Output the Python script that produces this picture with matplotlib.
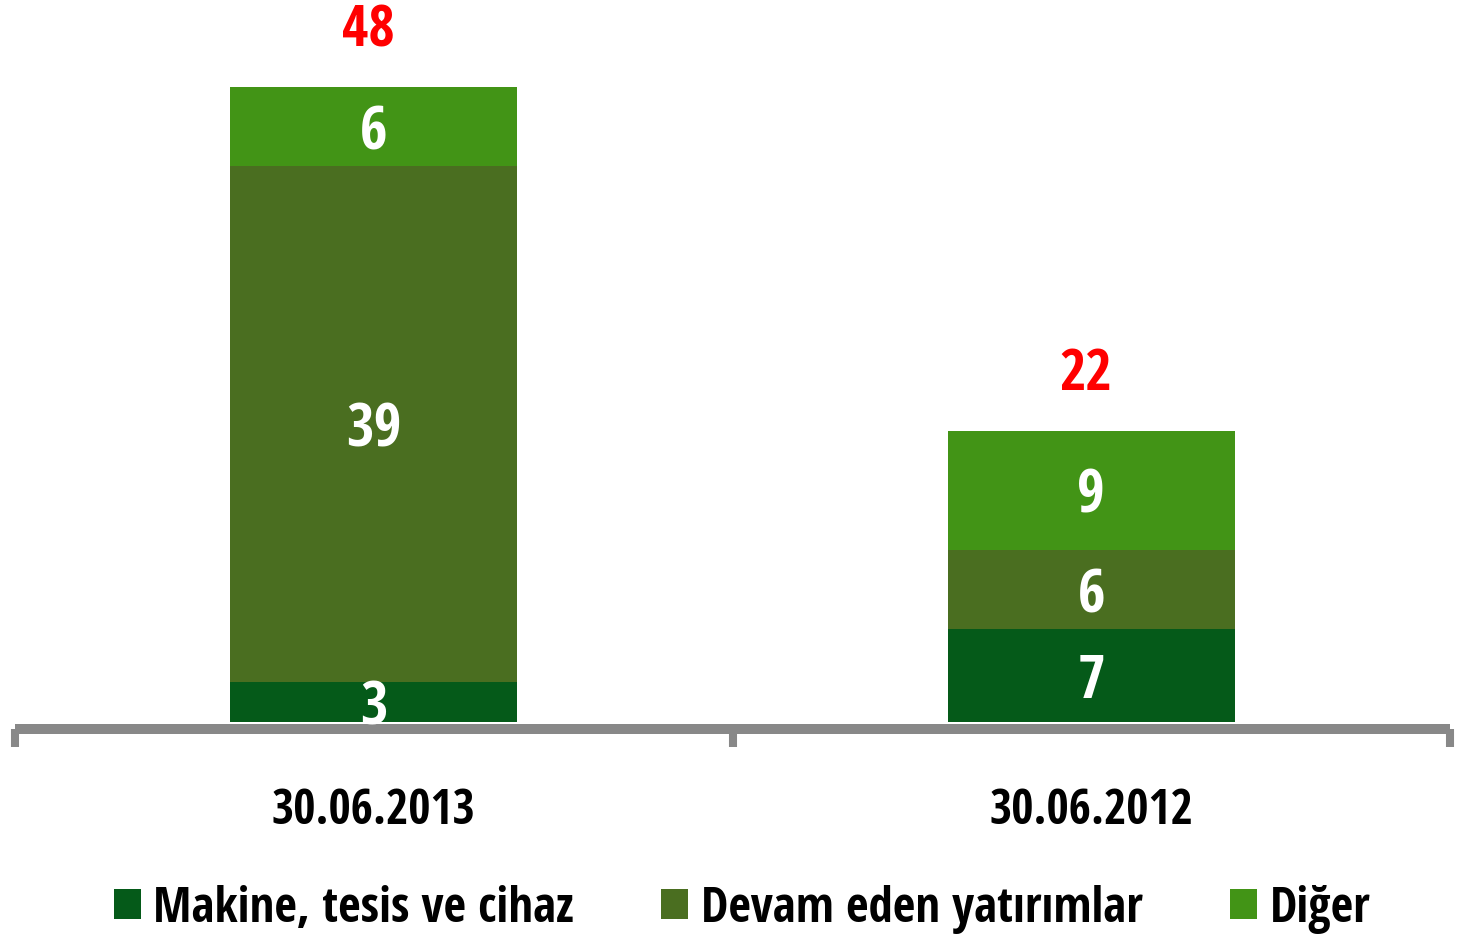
import matplotlib
matplotlib.use('Agg')
import matplotlib.pyplot as plt
import numpy as np

categories = ['30.06.2013', '30.06.2012']
series_names = ['Makine, tesis ve cihaz', 'Devam eden yatırımlar', 'Diğer']
makine = [3, 7]
devam = [39, 6]
diger = [6, 9]
totals = [48, 22]

colors = ['#055a19', '#4a6e20', '#429416']

plt.rcParams['font.family'] = ['Open Sans Condensed', 'Carlito', 'DejaVu Sans']
plt.rcParams['font.weight'] = 'bold'

fig = plt.figure(figsize=(14.62, 9.37), dpi=100)
ax = fig.add_axes([15 / 1462, 1 - 723 / 937, 1435 / 1462, 723 / 937])

x = np.arange(len(categories))
bottom = np.zeros(len(categories))
for vals, name, c in zip([makine, devam, diger], series_names, colors):
    ax.bar(x, vals, width=0.4, bottom=bottom, color=c, label=name, zorder=2)
    # white value labels, digits centred in the segment
    for xi, v, b in zip(x, vals, bottom):
        ax.annotate(str(v), (xi, b + v / 2), xytext=(0, -15.4), textcoords='offset points',
                    ha='center', va='baseline', color='white', fontsize=43,
                    fontweight='bold', zorder=4)
    bottom += np.array(vals)

# red totals above the bars
for xi, t in zip(x, totals):
    ax.annotate(str(t), (xi, t), xytext=(-4, 30), textcoords='offset points',
                ha='center', va='baseline', color='#ff0000', fontsize=41, fontweight='bold')

ax.set_xlim(-0.5, 1.5)
ax.set_ylim(0, 54.65)
ax.set_yticks([])
for s in ['top', 'left', 'right']:
    ax.spines[s].set_visible(False)
ax.spines['bottom'].set_color('#888888')
ax.spines['bottom'].set_linewidth(7.2)
ax.spines['bottom'].set_position(('outward', 5))
ax.spines['bottom'].set_capstyle('butt')

ax.set_xticks(x)
ax.set_xticklabels(categories, fontsize=34.5, fontweight='bold')
ax.tick_params(axis='x', which='major', length=0, pad=41)
ax.set_xticks([-0.5, 0.5, 1.5], minor=True)
ax.tick_params(axis='x', which='minor', length=13, width=5.8, color='#888888', direction='out')

ax.legend(loc='center', bbox_to_anchor=(742 / 1462, 1 - 910 / 937),
          bbox_transform=fig.transFigure, ncol=3, frameon=False,
          fontsize=35.3, handlelength=0.55, handleheight=0.55, handletextpad=0.26,
          columnspacing=1.78, borderpad=0)

fig.savefig('out.png', dpi=100)
